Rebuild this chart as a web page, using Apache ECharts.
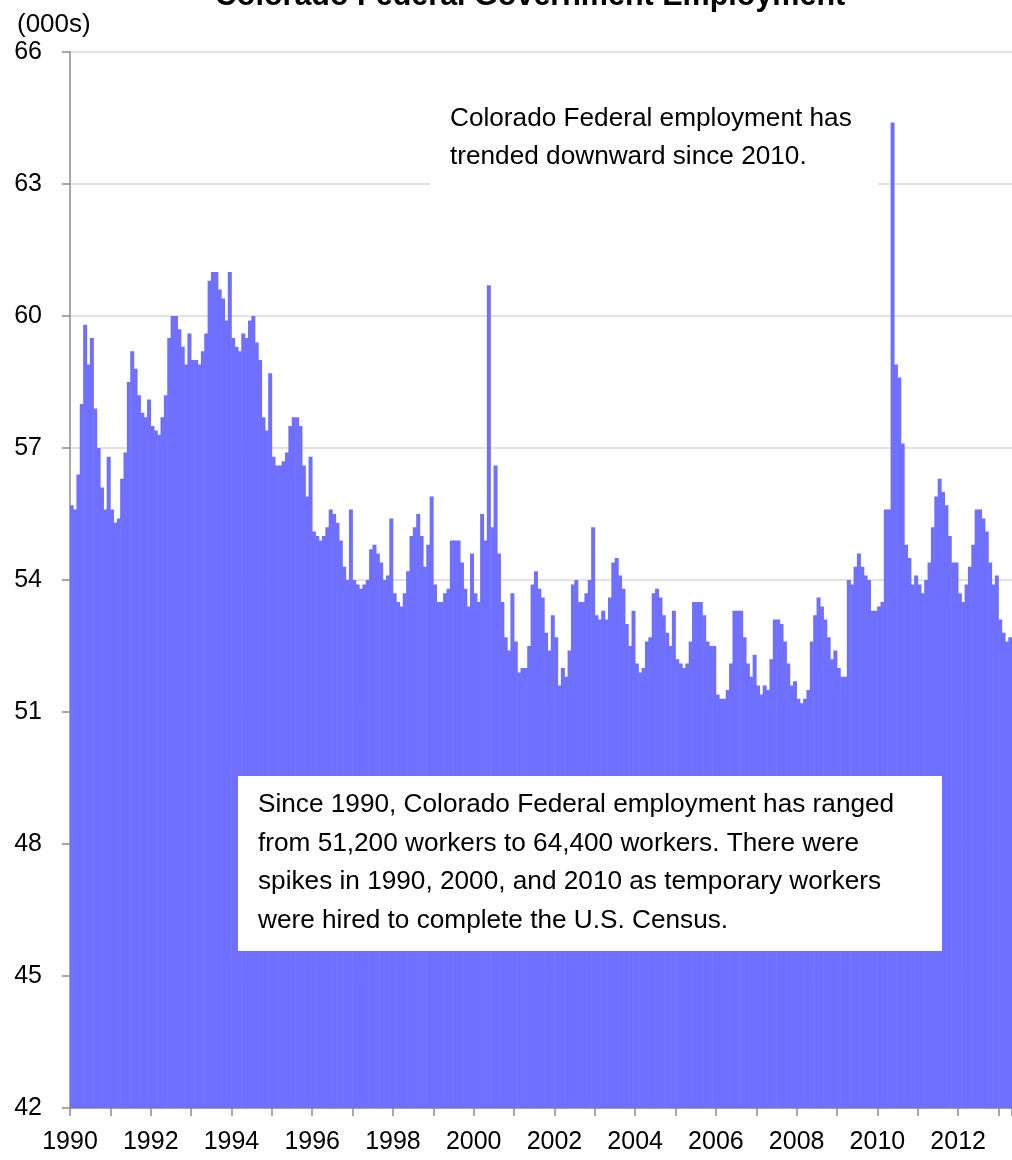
<!DOCTYPE html>
<html>
<head>
<meta charset="utf-8">
<title>Colorado Federal Government Employment</title>
<script src="https://cdn.jsdelivr.net/npm/echarts@6/dist/echarts.min.js"></script>
<style>
  html, body { margin: 0; padding: 0; background: #ffffff; }
  #chart { width: 1012px; height: 1160px; }
</style>
</head>
<body>
<div id="chart"></div>
<script>
// Colorado federal government employment, thousands of jobs, monthly Jan 1990 - Apr 2013
const startYear = 1990;
const employment = [
  55.7, 55.6, 56.4, 58.0, 59.8, 58.9, 59.5, 57.9, 57.0, 56.1, 55.6, 56.8, // 1990
  55.6, 55.3, 55.4, 56.3, 56.9, 58.5, 59.2, 58.8, 58.2, 57.8, 57.7, 58.1, // 1991
  57.5, 57.4, 57.3, 57.7, 58.2, 59.5, 60.0, 60.0, 59.7, 59.3, 58.9, 59.6, // 1992
  59.0, 59.0, 58.9, 59.2, 59.6, 60.8, 61.0, 61.0, 60.6, 60.4, 59.9, 61.0, // 1993
  59.5, 59.3, 59.2, 59.6, 59.5, 59.9, 60.0, 59.4, 59.0, 57.7, 57.4, 58.7, // 1994
  56.8, 56.6, 56.6, 56.7, 56.9, 57.5, 57.7, 57.7, 57.5, 56.6, 55.9, 56.8, // 1995
  55.1, 55.0, 54.9, 55.0, 55.2, 55.6, 55.5, 55.3, 54.9, 54.3, 54.0, 55.6, // 1996
  54.0, 53.9, 53.8, 53.9, 54.0, 54.7, 54.8, 54.6, 54.4, 54.0, 54.1, 55.4, // 1997
  53.7, 53.5, 53.4, 53.7, 54.2, 55.0, 55.2, 55.5, 55.0, 54.3, 54.8, 55.9, // 1998
  53.9, 53.5, 53.5, 53.7, 53.8, 54.9, 54.9, 54.9, 54.4, 53.8, 53.4, 54.6, // 1999
  53.7, 53.5, 55.5, 54.9, 60.7, 55.2, 56.6, 54.6, 53.5, 52.7, 52.4, 53.7, // 2000
  52.6, 51.9, 52.0, 52.0, 52.5, 53.9, 54.2, 53.8, 53.6, 52.8, 52.4, 53.2, // 2001
  52.7, 51.6, 52.0, 51.8, 52.4, 53.9, 54.0, 53.5, 53.5, 53.7, 54.0, 55.2, // 2002
  53.2, 53.1, 53.3, 53.1, 53.6, 54.4, 54.5, 54.1, 53.8, 53.0, 52.5, 53.3, // 2003
  52.1, 51.9, 52.0, 52.6, 52.7, 53.7, 53.8, 53.6, 53.2, 52.8, 52.5, 53.3, // 2004
  52.2, 52.1, 52.0, 52.1, 52.6, 53.5, 53.5, 53.5, 53.2, 52.6, 52.5, 52.5, // 2005
  51.4, 51.3, 51.3, 51.5, 52.1, 53.3, 53.3, 53.3, 52.7, 52.1, 51.8, 52.3, // 2006
  51.6, 51.4, 51.6, 51.5, 52.2, 53.1, 53.1, 53.0, 52.6, 52.1, 51.6, 51.7, // 2007
  51.3, 51.2, 51.3, 51.5, 52.6, 53.2, 53.6, 53.4, 53.1, 52.7, 52.2, 52.4, // 2008
  52.0, 51.8, 51.8, 54.0, 53.9, 54.3, 54.6, 54.3, 54.1, 54.0, 53.3, 53.3, // 2009
  53.4, 53.5, 55.6, 55.6, 64.4, 58.9, 58.6, 57.1, 54.8, 54.5, 53.9, 54.1, // 2010
  53.9, 53.7, 54.0, 54.4, 55.2, 55.9, 56.3, 56.0, 55.7, 55.0, 54.4, 54.4, // 2011
  53.7, 53.5, 53.9, 54.3, 54.8, 55.6, 55.6, 55.4, 55.1, 54.4, 53.9, 54.1, // 2012
  53.1, 52.8, 52.6, 52.7                                                  // 2013
];

// One category per month, e.g. "1990-01"
const monthKeys = employment.map(function (v, i) {
  const y = startYear + Math.floor(i / 12);
  const m = (i % 12) + 1;
  return y + '-' + (m < 10 ? '0' + m : m);
});

const yMin = 42, yMax = 66, yStep = 3;

const noteTop = [
  'Colorado Federal employment has',
  'trended downward since 2010.'
];
const noteBottom = [
  'Since 1990, Colorado Federal employment has ranged',
  'from 51,200 workers to 64,400 workers. There were',
  'spikes in 1990, 2000, and 2010 as temporary workers',
  'were hired to complete the U.S. Census.'
];

const FONT = "'Liberation Sans', Arial, sans-serif";
const axisGray = '#8c8c8c';
const barBlue = '#7070ff';

const graphics = [
  {
    type: 'text', x: 530, y: -3, z: 100,
    style: { text: 'Colorado Federal Government Employment', font: 'bold 30.5px ' + FONT,
             fill: '#000', align: 'center', verticalAlign: 'middle' }
  },
  {
    type: 'text', x: 17, y: 25, z: 100,
    style: { text: '(000s)', font: '26px ' + FONT, fill: '#000', align: 'left', verticalAlign: 'middle' }
  },
  {
    type: 'rect', z: 90,
    shape: { x: 430, y: 90, width: 448, height: 105 },
    style: { fill: '#ffffff' }
  },
  {
    type: 'rect', z: 90,
    shape: { x: 238, y: 776, width: 704, height: 175 },
    style: { fill: '#ffffff' }
  }
];
noteTop.forEach(function (line, i) {
  graphics.push({
    type: 'text', x: 450, y: 118.5 + i * 38, z: 100,
    style: { text: line, font: '26.2px ' + FONT, fill: '#000', align: 'left', verticalAlign: 'middle' }
  });
});
noteBottom.forEach(function (line, i) {
  graphics.push({
    type: 'text', x: 258, y: 805 + i * 38.5, z: 100,
    style: { text: line, font: '26.2px ' + FONT, fill: '#000', align: 'left', verticalAlign: 'middle' }
  });
});

const chart = echarts.init(document.getElementById('chart'), null, { renderer: 'canvas' });
chart.setOption({
  animation: false,
  backgroundColor: '#ffffff',
  grid: { left: 70, right: 0, top: 52, bottom: 52, containLabel: false },
  xAxis: {
    type: 'category',
    data: monthKeys,
    boundaryGap: true,
    axisLine: { show: true, lineStyle: { color: axisGray, width: 1.5 } },
    axisTick: {
      show: true, length: 8,
      interval: function (i) { return i % 12 === 0; },
      lineStyle: { color: axisGray, width: 1.5 }
    },
    axisLabel: {
      interval: function (i) { return i % 24 === 0; },
      formatter: function (v) { return v.slice(0, 4); },
      fontSize: 25, fontFamily: FONT, color: '#000',
      margin: 22, padding: [0, 3.4, 0, 0]
    },
    splitLine: { show: false }
  },
  yAxis: {
    type: 'value',
    min: yMin, max: yMax, interval: yStep,
    axisLine: { show: true, lineStyle: { color: axisGray, width: 1.5 } },
    axisTick: { show: true, length: 8, lineStyle: { color: axisGray, width: 1.5 } },
    axisLabel: { fontSize: 25, fontFamily: FONT, color: '#000', margin: 28 },
    splitLine: { show: true, lineStyle: { color: '#d9d9d9', width: 1.5 } }
  },
  series: [{
    type: 'bar',
    data: employment,
    // bars slightly wider than a month band so neighbours overlap and fill solidly
    barWidth: 4,
    itemStyle: { color: barBlue },
    silent: true,
    clip: true
  }],
  graphic: graphics
});
</script>
</body>
</html>
